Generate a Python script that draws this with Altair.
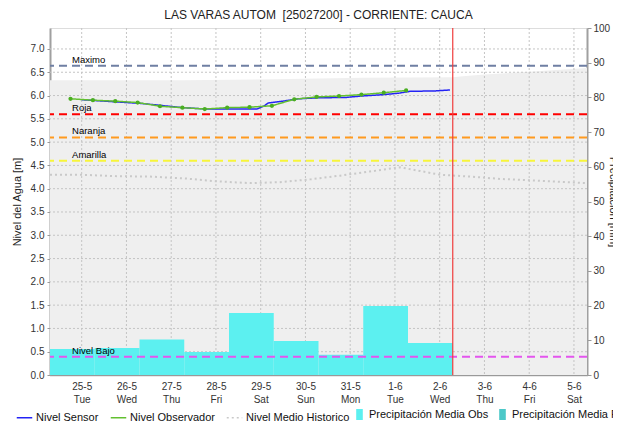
import altair as alt
import pandas as pd

title_text = "LAS VARAS AUTOM \u00a0[25027200] - CORRIENTE: CAUCA"
FONT = "Liberation Sans"

# ---- data -------------------------------------------------------------
sensor_time = ["2021-05-25T00:00", "2021-05-25T12:00", "2021-05-25T20:00", "2021-05-26T08:00",
               "2021-05-26T18:00", "2021-05-27T06:00", "2021-05-27T19:00", "2021-05-28T10:00",
               "2021-05-28T22:00", "2021-05-29T02:00", "2021-05-29T04:00", "2021-05-29T12:00",
               "2021-05-29T20:00", "2021-05-30T06:00", "2021-05-30T22:00", "2021-05-31T06:00",
               "2021-05-31T18:00", "2021-06-01T02:00", "2021-06-01T08:00", "2021-06-01T22:00",
               "2021-06-02T05:30"]
sensor_level = [5.91, 5.88, 5.86, 5.83, 5.79, 5.74, 5.71, 5.71, 5.71, 5.78, 5.84, 5.88,
                5.93, 5.95, 5.96, 5.99, 6.02, 6.05, 6.09, 6.10, 6.12]

obs_time = ["2021-05-24T18:00", "2021-05-25T06:00", "2021-05-25T18:00", "2021-05-26T06:00",
            "2021-05-26T18:00", "2021-05-27T06:00", "2021-05-27T18:00", "2021-05-28T06:00",
            "2021-05-28T18:00", "2021-05-29T06:00", "2021-05-29T18:00", "2021-05-30T06:00",
            "2021-05-30T18:00", "2021-05-31T06:00", "2021-05-31T18:00", "2021-06-01T06:00"]
obs_level = [5.93, 5.90, 5.88, 5.85, 5.77, 5.74, 5.71, 5.74, 5.75, 5.78, 5.92, 5.97,
             5.99, 6.02, 6.06, 6.11]

hist_time = ["2021-05-24T07:00", "2021-05-24T23:00", "2021-05-25T18:00", "2021-05-26T12:30",
             "2021-05-27T07:30", "2021-05-27T23:30", "2021-05-28T18:20", "2021-05-29T10:20",
             "2021-05-30T02:30", "2021-05-30T18:30", "2021-05-31T10:40", "2021-06-01T02:40",
             "2021-06-01T13:30", "2021-06-02T00:10", "2021-06-02T16:20", "2021-06-03T08:20",
             "2021-06-04T05:50", "2021-06-05T07:00"]
hist_level = [4.30, 4.30, 4.27, 4.26, 4.22, 4.16, 4.12, 4.14, 4.20, 4.28, 4.37, 4.46,
              4.38, 4.30, 4.26, 4.21, 4.17, 4.12]

band_time = ["2021-05-24T07:00", "2021-05-27T07:00", "2021-05-29T07:00", "2021-05-31T07:00",
             "2021-06-02T07:00", "2021-06-02T14:00", "2021-06-03T00:00", "2021-06-04T00:00",
             "2021-06-05T07:00"]
band_level = [6.33, 6.33, 6.35, 6.38, 6.39, 6.42, 6.45, 6.51, 6.59]

precip_start = ["2021-05-24T07:00", "2021-05-25T07:00", "2021-05-26T07:00", "2021-05-27T07:00",
                "2021-05-28T07:00", "2021-05-29T07:00", "2021-05-30T07:00", "2021-05-31T07:00",
                "2021-06-01T07:00"]
precip_end = ["2021-05-25T07:00", "2021-05-26T07:00", "2021-05-27T07:00", "2021-05-28T07:00",
              "2021-05-29T07:00", "2021-05-30T07:00", "2021-05-31T07:00", "2021-06-01T07:00",
              "2021-06-02T07:00"]
precip_mm = [7.5, 7.8, 10.2, 6.6, 17.9, 9.8, 5.8, 19.9, 9.2]

threshold_names = ["Maximo", "Roja", "Naranja", "Amarilla", "Nivel Bajo"]
threshold_levels = [6.64, 5.60, 5.10, 4.60, 0.39]
threshold_colors = ["#6f7fa3", "#ff0000", "#ff9a1f", "#f7f53a", "#e455ee"]

now_time = ["2021-06-02T07:00"]

day_ticks = ["2021-05-25T00:00", "2021-05-26T00:00", "2021-05-27T00:00", "2021-05-28T00:00",
             "2021-05-29T00:00", "2021-05-30T00:00", "2021-05-31T00:00", "2021-06-01T00:00",
             "2021-06-02T00:00", "2021-06-03T00:00", "2021-06-04T00:00", "2021-06-05T00:00"]
level_ticks = [0.5, 1.0, 1.5, 2.0, 2.5, 3.0, 3.5, 4.0, 4.5, 5.0, 5.5, 6.0, 6.5, 7.0]
level_axis_values = [0.0] + level_ticks
precip_axis_values = [0, 10, 20, 30, 40, 50, 60, 70, 80, 90, 100]

line_series = ["Nivel Sensor", "Nivel Observador", "Nivel Medio Historico"]
line_colors = ["#2323f5", "#62c030", "#c9c9c9"]
line_dashes = [[1, 0], [1, 0], [2, 3]]
precip_series = ["Precipitación Media Obs", "Precipitación Media Pronosticada"]
precip_colors = ["#5cf0f0", "#4cc8c8"]

# ---- tables -----------------------------------------------------------
sensor_df = pd.DataFrame({"t": sensor_time, "nivel": sensor_level, "serie": line_series[0]})
obs_df = pd.DataFrame({"t": obs_time, "nivel": obs_level, "serie": line_series[1]})
hist_df = pd.DataFrame({"t": hist_time, "nivel": hist_level, "serie": line_series[2]})
band_df = pd.DataFrame({"t": band_time, "nivel": band_level})
precip_df = pd.DataFrame({"inicio": precip_start, "fin": precip_end, "mm": precip_mm,
                          "serie": precip_series[0]})
thr_df = pd.DataFrame({"nombre": threshold_names, "nivel": threshold_levels})
now_df = pd.DataFrame({"t": now_time})
vgrid_df = pd.DataFrame({"t": day_ticks})
hgrid_df = pd.DataFrame({"nivel": level_ticks})

# ---- scales / axes ----------------------------------------------------
x_scale = alt.Scale(domain=[alt.DateTime(year=2021, month=5, date=24, hours=7),
                            alt.DateTime(year=2021, month=6, date=5, hours=7)], nice=False)
x_axis = alt.Axis(
    title=None,
    values=[alt.DateTime(year=2021, month=int(d[5:7]), date=int(d[8:10]), hours=0) for d in day_ticks],
    labelExpr="[timeFormat(datum.value, '%-d-%-m'), timeFormat(datum.value, '%a')]",
    grid=False, ticks=False, tickSize=0, labelPadding=6,
    labelFont=FONT, labelFontSize=10, labelColor="#333333", labelLineHeight=13,
    domainColor="#555555", domainDash=[1, 1], domainWidth=1.5, labelFlush=False,
)
y_scale = alt.Scale(domain=[0, 7.45], nice=False, zero=True)
y_axis = alt.Axis(
    title="Nivel del Agua [m]", orient="left", values=level_axis_values, format=".1f",
    grid=False, tickSize=3, tickColor="#999999", labelPadding=3,
    labelFont=FONT, labelFontSize=10, labelColor="#333333",
    domainColor="#a0a0a0", domainWidth=2,
    titleFont=FONT, titleFontSize=11, titleFontWeight="normal", titleColor="#222222",
    titlePadding=8,
)
p_scale = alt.Scale(domain=[0, 100], nice=False)
p_axis = alt.Axis(
    title="Precipitación [mm]", orient="right", values=precip_axis_values,
    grid=False, tickSize=4, tickColor="#999999", labelPadding=2,
    labelFont=FONT, labelFontSize=10, labelColor="#333333",
    domainColor="#a0a0a0", domainWidth=2,
    titleFont=FONT, titleFontSize=11, titleFontWeight="normal", titleColor="#222222",
    titlePadding=-2,
)


def X(field):
    return alt.X(field, type="temporal", scale=x_scale, axis=x_axis)


def YL(field, axis=None):
    return alt.Y(field, type="quantitative", scale=y_scale, axis=axis)


legend_lines = alt.Legend(title=None, orient="none", legendX=-34, legendY=381, direction="horizontal",
                          symbolType="stroke", symbolSize=240, symbolStrokeWidth=1.5,
                          labelFont=FONT, labelFontSize=11, labelColor="#111111",
                          labelOffset=3, columnPadding=8, padding=0, labelLimit=300)
legend_bars = alt.Legend(title=None, orient="none", legendX=304, legendY=381, direction="horizontal",
                         symbolType="M-0.6,-1H0.6V1H-0.6Z", symbolSize=121, symbolStrokeWidth=0,
                         labelFont=FONT, labelFontSize=11, labelColor="#111111",
                         labelOffset=4, columnPadding=8, padding=0, labelLimit=300)

color_enc = alt.Color("serie:N", scale=alt.Scale(domain=line_series, range=line_colors),
                      legend=legend_lines)
dash_enc = alt.StrokeDash("serie:N", scale=alt.Scale(domain=line_series, range=line_dashes),
                          legend=legend_lines)

# ---- bottom group: background band + grid ------------------------------
band = alt.Chart(band_df).mark_area(color="#efefef", interpolate="linear").encode(
    x=X("t"), y=YL("nivel", y_axis))
vgrid = alt.Chart(vgrid_df).mark_rule(color="#c4c4c4", strokeDash=[2, 2], strokeWidth=1).encode(
    x=X("t"))
hgrid = alt.Chart(hgrid_df).mark_rule(color="#c4c4c4", strokeDash=[2, 2], strokeWidth=1).encode(
    y=YL("nivel", y_axis))
bottom = alt.layer(band, vgrid, hgrid)

# ---- bars (right axis) ------------------------------------------------
bars = alt.Chart(precip_df).mark_rect(strokeWidth=0).encode(
    x=X("inicio"), x2="fin",
    y=alt.Y("mm:Q", scale=p_scale, axis=p_axis),
    y2=alt.datum(0),
    fill=alt.Fill("serie:N", scale=alt.Scale(domain=precip_series, range=precip_colors),
                  legend=legend_bars),
)

# ---- top group: series, thresholds ------------------------------------
hist = alt.Chart(hist_df).mark_line(strokeWidth=2).encode(
    x=X("t"), y=YL("nivel"), color=color_enc, strokeDash=dash_enc)
sensor = alt.Chart(sensor_df).mark_line(strokeWidth=1.5).encode(
    x=X("t"), y=YL("nivel"), color=color_enc, strokeDash=dash_enc)
obs = alt.Chart(obs_df).mark_line(strokeWidth=1.5).encode(
    x=X("t"), y=YL("nivel"), color=color_enc, strokeDash=dash_enc)
obs_pts = alt.Chart(obs_df).mark_point(filled=True, size=18, opacity=1, color="#4aae22").encode(
    x=X("t"), y=YL("nivel"))
thr = alt.Chart(thr_df).mark_rule(strokeDash=[8, 5], strokeWidth=2).encode(
    y=YL("nivel"),
    stroke=alt.Stroke("nombre:N", scale=alt.Scale(domain=threshold_names, range=threshold_colors),
                      legend=None))
thr_text = alt.Chart(thr_df).mark_text(align="left", baseline="bottom", dy=-1, font=FONT,
                                       fontSize=9.5, color="#000000").encode(
    x=alt.datum(alt.DateTime(year=2021, month=5, date=24, hours=18, minutes=50)),
    y=YL("nivel"), text="nombre:N")
now = alt.Chart(now_df).mark_rule(color="#f03c3c", strokeWidth=1.2).encode(x=X("t"))
top = alt.layer(hist, sensor, obs, obs_pts, thr, thr_text, now)

chart = alt.layer(bottom, bars, top).resolve_scale(y="independent").properties(
    width=537, height=347,
    autosize=alt.AutoSizeParams(type="none"),
    padding={"left": 42, "top": 20, "right": 26, "bottom": 47},
    title=alt.TitleParams(title_text, font=FONT, fontSize=12, fontWeight="normal",
                          color="#222222", anchor="middle", offset=1),
).configure_view(stroke="#a8a8a8", strokeWidth=1).configure(background="white")

chart.save("out.html", embed_options={"renderer": "svg", "actions": False})
